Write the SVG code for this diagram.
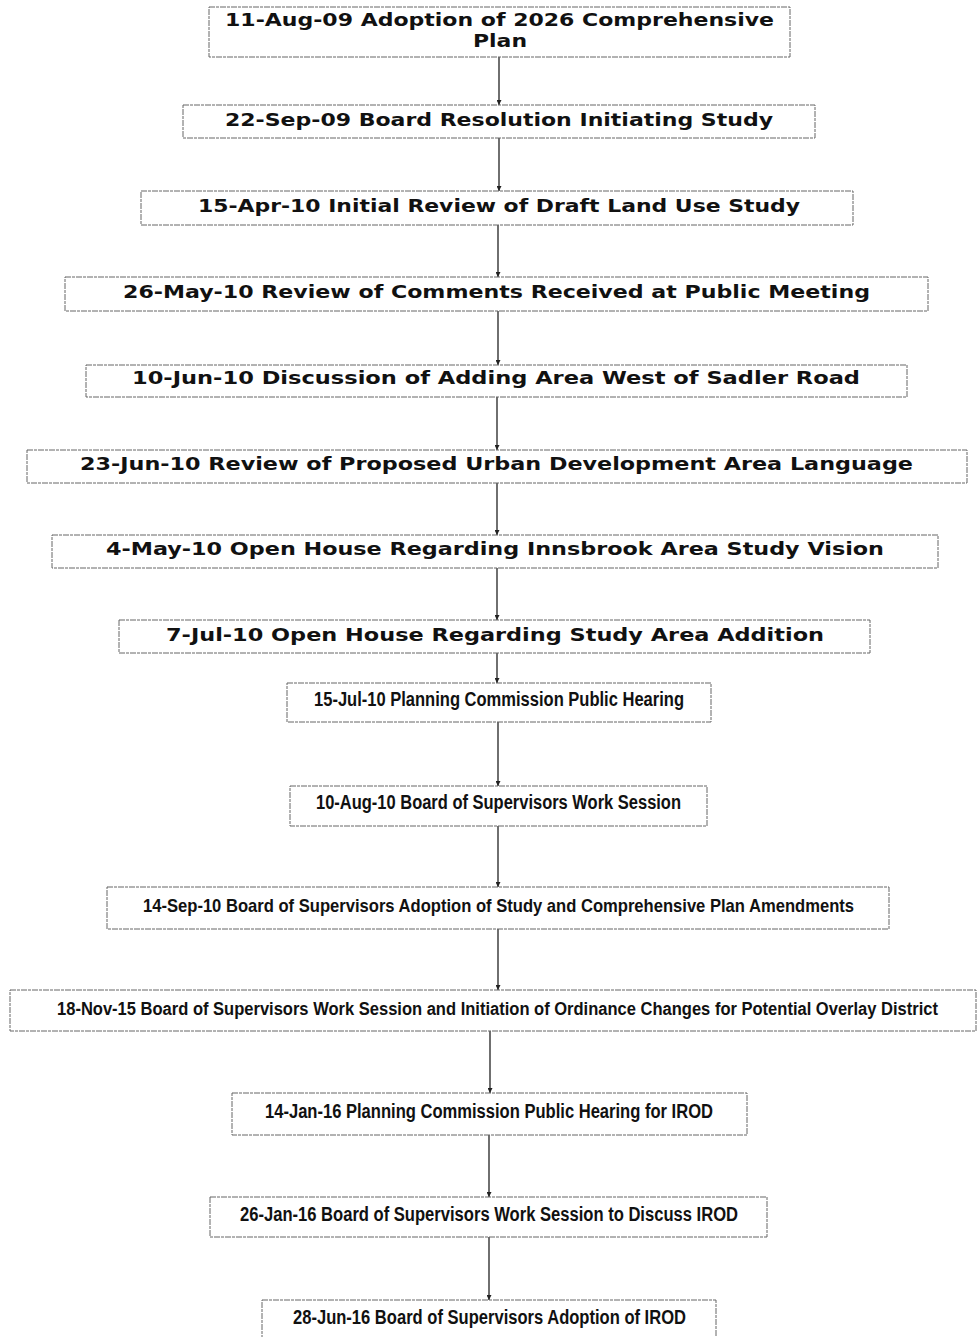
<svg xmlns="http://www.w3.org/2000/svg" width="977" height="1337" viewBox="0 0 977 1337">
<style>
.box{fill:#fff;stroke:#666;stroke-width:1;stroke-dasharray:6 1 3 1}
.w{font-family:"DejaVu Sans","Liberation Sans",sans-serif;font-weight:bold;font-size:18px;fill:#111;text-anchor:middle}
.n{font-family:"Liberation Sans Narrow","Liberation Sans",sans-serif;font-weight:bold;font-size:20px;fill:#111;text-anchor:middle}
.s{font-size:19px}
.t{font-size:18px}
.c{stroke:#222;stroke-width:1.3;fill:none}
</style>
<defs>
<marker id="ah" viewBox="0 0 10 10" refX="10" refY="5" markerWidth="5" markerHeight="5" orient="auto" markerUnits="userSpaceOnUse">
<path d="M0,0 L10,5 L0,10 z" fill="#222"/>
</marker>
</defs>
<rect width="977" height="1337" fill="#fff"/>
<g id="connectors">
<line class="c" x1="499" y1="57" x2="499" y2="105" marker-end="url(#ah)"/>
<line class="c" x1="499" y1="138" x2="499" y2="191" marker-end="url(#ah)"/>
<line class="c" x1="498" y1="225" x2="498" y2="277" marker-end="url(#ah)"/>
<line class="c" x1="498" y1="311" x2="498" y2="365" marker-end="url(#ah)"/>
<line class="c" x1="497" y1="397" x2="497" y2="450" marker-end="url(#ah)"/>
<line class="c" x1="497" y1="483" x2="497" y2="535" marker-end="url(#ah)"/>
<line class="c" x1="497" y1="568" x2="497" y2="620" marker-end="url(#ah)"/>
<line class="c" x1="497" y1="653" x2="497" y2="683" marker-end="url(#ah)"/>
<line class="c" x1="498" y1="722" x2="498" y2="786" marker-end="url(#ah)"/>
<line class="c" x1="498" y1="826" x2="498" y2="887" marker-end="url(#ah)"/>
<line class="c" x1="498" y1="929" x2="498" y2="990" marker-end="url(#ah)"/>
<line class="c" x1="490" y1="1031" x2="490" y2="1093" marker-end="url(#ah)"/>
<line class="c" x1="489" y1="1135" x2="489" y2="1197" marker-end="url(#ah)"/>
<line class="c" x1="489" y1="1237" x2="489" y2="1300" marker-end="url(#ah)"/>
</g>
<g id="n1"><rect class="box" x="209" y="7" width="581" height="50"/>
<text class="w" x="499.5" y="26" textLength="549" lengthAdjust="spacingAndGlyphs">11-Aug-09 Adoption of 2026 Comprehensive</text>
<text class="w" x="500" y="47" textLength="54" lengthAdjust="spacingAndGlyphs">Plan</text></g>
<g id="n2"><rect class="box" x="183" y="105" width="632" height="33"/>
<text class="w" x="499" y="126" textLength="548" lengthAdjust="spacingAndGlyphs">22-Sep-09 Board Resolution Initiating Study</text></g>
<g id="n3"><rect class="box" x="141" y="191" width="712" height="34"/>
<text class="w" x="499" y="212" textLength="602" lengthAdjust="spacingAndGlyphs">15-Apr-10 Initial Review of Draft Land Use Study</text></g>
<g id="n4"><rect class="box" x="65" y="277" width="863" height="34"/>
<text class="w" x="496.5" y="298" textLength="747" lengthAdjust="spacingAndGlyphs">26-May-10 Review of Comments Received at Public Meeting</text></g>
<g id="n5"><rect class="box" x="86" y="365" width="821" height="32"/>
<text class="w" x="496" y="384" textLength="728" lengthAdjust="spacingAndGlyphs">10-Jun-10 Discussion of Adding Area West of Sadler Road</text></g>
<g id="n6"><rect class="box" x="27" y="450" width="940" height="33"/>
<text class="w" x="496.5" y="470" textLength="833" lengthAdjust="spacingAndGlyphs">23-Jun-10 Review of Proposed Urban Development Area Language</text></g>
<g id="n7"><rect class="box" x="52" y="535" width="886" height="33"/>
<text class="w" x="495" y="555" textLength="778" lengthAdjust="spacingAndGlyphs">4-May-10 Open House Regarding Innsbrook Area Study Vision</text></g>
<g id="n8"><rect class="box" x="119" y="620" width="751" height="33"/>
<text class="w" x="495" y="641" textLength="658" lengthAdjust="spacingAndGlyphs">7-Jul-10 Open House Regarding Study Area Addition</text></g>
<g id="n9"><rect class="box" x="287" y="683" width="424" height="39"/>
<text class="n" x="499" y="706" textLength="370" lengthAdjust="spacingAndGlyphs">15-Jul-10 Planning Commission Public Hearing</text></g>
<g id="n10"><rect class="box" x="290" y="786" width="417" height="40"/>
<text class="n" x="498.5" y="809" textLength="365" lengthAdjust="spacingAndGlyphs">10-Aug-10 Board of Supervisors Work Session</text></g>
<g id="n11"><rect class="box" x="107" y="887" width="782" height="42"/>
<text class="n s" x="498.5" y="912" textLength="711" lengthAdjust="spacingAndGlyphs">14-Sep-10 Board of Supervisors Adoption of Study and Comprehensive Plan Amendments</text></g>
<g id="n12"><rect class="box" x="10" y="990" width="966" height="41"/>
<text class="n t" x="497.5" y="1015" textLength="881" lengthAdjust="spacingAndGlyphs">18-Nov-15 Board of Supervisors Work Session and Initiation of Ordinance Changes for Potential Overlay District</text></g>
<g id="n13"><rect class="box" x="232" y="1093" width="515" height="42"/>
<text class="n" x="489" y="1118" textLength="448" lengthAdjust="spacingAndGlyphs">14-Jan-16 Planning Commission Public Hearing for IROD</text></g>
<g id="n14"><rect class="box" x="210" y="1197" width="557" height="40"/>
<text class="n" x="489" y="1221" textLength="498" lengthAdjust="spacingAndGlyphs">26-Jan-16 Board of Supervisors Work Session to Discuss IROD</text></g>
<g id="n15"><rect class="box" x="262" y="1300" width="454" height="45"/>
<text class="n" x="489.5" y="1324" textLength="393" lengthAdjust="spacingAndGlyphs">28-Jun-16 Board of Supervisors Adoption of IROD</text></g>
</svg>
